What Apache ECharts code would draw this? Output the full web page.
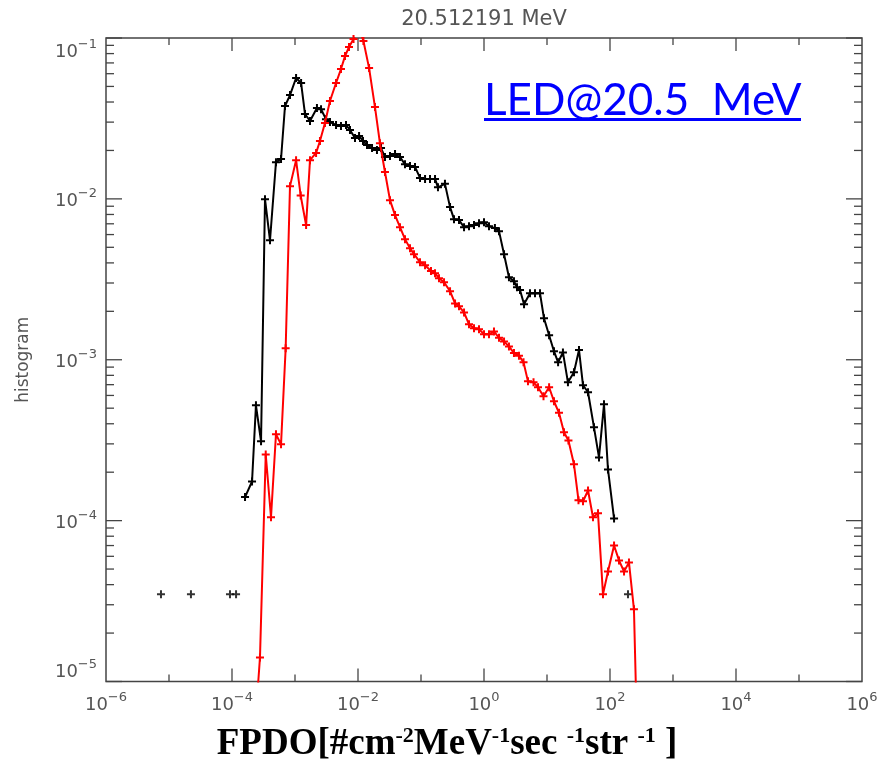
<!DOCTYPE html>
<html>
<head>
<meta charset="utf-8">
<script src="https://cdn.jsdelivr.net/npm/echarts@6/dist/echarts.min.js"></script>
<style>
  html, body { margin: 0; padding: 0; background: #fff; }
  #chart { width: 880px; height: 763px; }
</style>
</head>
<body>
<div id="chart"></div>
<script>
// ---- texts ----
const plotTitle = '20.512191 MeV';
const beamLabel = 'LED@20.5  MeV';
const yTitle = 'histogram';

// ---- axis layout (decade exponents) ----
const xMajorExponents = [-6, -4, -2, 0, 2, 4, 6];
const xMinorExponents = [-5, -3, -1, 1, 3, 5];
const yMajorExponents = [-5, -4, -3, -2, -1];
const yMinorMultipliers = [2, 3, 4, 5, 6, 7, 8, 9];

// ---- black histogram (connected part) ----
const blackX = [1.61e-4, 2.08e-4, 2.40e-4, 2.89e-4, 3.34e-4, 4.01e-4, 4.99e-4, 6.00e-4, 6.94e-4, 8.33e-4,
  1.04e-3, 1.25e-3, 1.44e-3, 1.73e-3, 2.23e-3, 2.59e-3, 3.10e-3, 3.59e-3, 4.48e-3, 5.37e-3,
  6.45e-3, 7.46e-3, 8.96e-3, 1.04e-2, 1.20e-2, 1.39e-2, 1.67e-2, 2.00e-2, 2.32e-2, 2.68e-2,
  3.22e-2, 3.87e-2, 4.64e-2, 5.57e-2, 6.69e-2, 8.03e-2, 9.64e-2, 0.116, 0.139, 0.167,
  0.186, 0.240, 0.289, 0.334, 0.401, 0.482, 0.578, 0.694, 0.833, 1.0,
  1.20, 1.49, 1.73, 2.08, 2.49, 2.99, 3.34, 3.73, 4.32, 5.37,
  6.45, 7.74, 8.96, 10.8, 12.9, 15.0, 17.9, 21.5, 26.8, 32.2,
  37.3, 44.8, 55.7, 66.9, 80.3, 92.9, 116];
const blackY = [1.40e-4, 1.75e-4, 5.21e-4, 3.11e-4, 9.96e-3, 5.53e-3, 1.69e-2, 1.77e-2, 3.78e-2, 4.42e-2,
  5.64e-2, 5.25e-2, 3.37e-2, 3.05e-2, 3.67e-2, 3.61e-2, 3.13e-2, 3.00e-2, 2.88e-2, 2.84e-2,
  2.88e-2, 2.68e-2, 2.39e-2, 2.46e-2, 2.29e-2, 2.16e-2, 2.07e-2, 2.01e-2, 2.07e-2, 1.82e-2,
  1.85e-2, 1.90e-2, 1.82e-2, 1.64e-2, 1.60e-2, 1.58e-2, 1.35e-2, 1.33e-2, 1.33e-2, 1.33e-2,
  1.18e-2, 1.24e-2, 8.89e-3, 7.48e-3, 7.38e-3, 6.67e-3, 6.76e-3, 6.87e-3, 7.06e-3, 7.16e-3,
  6.76e-3, 6.58e-3, 6.30e-3, 4.53e-3, 3.26e-3, 3.08e-3, 2.82e-3, 2.71e-3, 2.21e-3, 2.59e-3,
  2.59e-3, 2.59e-3, 1.81e-3, 1.42e-3, 1.13e-3, 9.64e-4, 1.11e-3, 7.24e-4, 8.36e-4, 1.15e-3,
  6.94e-4, 6.28e-4, 3.80e-4, 2.47e-4, 5.28e-4, 2.08e-4, 1.03e-4];

// ---- black histogram (isolated single-count bins) ----
const blackLoneX = [7.46e-6, 2.23e-5, 9.29e-5, 1.16e-4, 193];
const blackLoneY = [3.48e-5, 3.48e-5, 3.48e-5, 3.48e-5, 3.48e-5];

// ---- red histogram ----
const redX = [2.36e-4, 2.78e-4, 3.43e-4, 4.16e-4, 4.99e-4, 6.00e-4, 7.11e-4, 8.33e-4, 1.04e-3, 1.23e-3,
  1.50e-3, 1.73e-3, 2.16e-3, 2.49e-3, 2.99e-3, 3.59e-3, 4.48e-3, 5.37e-3, 6.22e-3, 7.20e-3,
  8.49e-3, 1.02e-2, 1.22e-2, 1.50e-2, 1.86e-2, 2.23e-2, 2.68e-2, 3.22e-2, 3.87e-2, 4.64e-2,
  5.57e-2, 6.69e-2, 7.74e-2, 9.64e-2, 0.116, 0.144, 0.167, 0.193, 0.232, 0.289,
  0.347, 0.401, 0.482, 0.578, 0.694, 0.833, 1.0, 1.20, 1.44, 1.73,
  2.08, 2.49, 2.99, 3.59, 4.24, 4.99, 6.11, 7.20, 8.80, 10.8,
  12.9, 15.5, 18.6, 21.9, 26.8, 31.6, 37.3, 44.8, 53.7, 64.5,
  77.4, 92.9, 116, 139, 167, 200, 240, 289];
const redY = [5.7e-6, 1.41e-5, 2.58e-4, 1.05e-4, 3.44e-4, 2.98e-4, 1.18e-3, 1.20e-2, 1.74e-2, 1.05e-2,
  6.87e-3, 1.74e-2, 1.93e-2, 2.29e-2, 2.96e-2, 4.06e-2, 5.25e-2, 6.41e-2, 7.72e-2, 8.79e-2,
  9.86e-2, 0.118, 9.58e-2, 6.50e-2, 3.72e-2, 2.22e-2, 1.47e-2, 9.82e-3, 7.93e-3, 6.67e-3,
  5.62e-3, 4.94e-3, 4.53e-3, 4.04e-3, 3.87e-3, 3.56e-3, 3.45e-3, 3.21e-3, 3.03e-3, 2.67e-3,
  2.24e-3, 2.15e-3, 1.97e-3, 1.66e-3, 1.57e-3, 1.55e-3, 1.44e-3, 1.44e-3, 1.50e-3, 1.37e-3,
  1.30e-3, 1.21e-3, 1.10e-3, 1.06e-3, 9.64e-4, 7.34e-4, 7.24e-4, 6.75e-4, 5.93e-4, 6.75e-4,
  5.52e-4, 4.68e-4, 3.54e-4, 3.15e-4, 2.24e-4, 1.34e-4, 1.32e-4, 1.54e-4, 1.05e-4, 1.11e-4,
  3.48e-5, 4.83e-5, 7.01e-5, 5.66e-5, 4.83e-5, 5.50e-5, 2.81e-5, 1.5e-6];

const pairs = (xs, ys) => xs.map((x, i) => [x, ys[i]]);

// '+' marker
const plusPath = 'path://M-1,-0.25L-0.25,-0.25L-0.25,-1L0.25,-1L0.25,-0.25L1,-0.25L1,0.25L0.25,0.25L0.25,1L-0.25,1L-0.25,0.25L-1,0.25Z';

const axisGrey = '#444';
const labelGrey = '#555';
const labelFont = 'DejaVu Sans';

// tick list: [x, y, kind]  kind 0 = y major, 1 = y minor, 2 = x major, 3 = x minor
const tickData = [];
yMajorExponents.forEach(e => tickData.push([1, Math.pow(10, e), 0]));
yMajorExponents.slice(0, -1).forEach(e => yMinorMultipliers.forEach(m => tickData.push([1, m * Math.pow(10, e), 1])));
xMajorExponents.slice(1, -1).forEach(e => tickData.push([Math.pow(10, e), 1e-3, 2]));
xMinorExponents.forEach(e => tickData.push([Math.pow(10, e), 1e-3, 3]));

const tickLen = [16, 8, 13, 7];

function renderTick(params, api) {
  const cs = params.coordSys;
  const kind = api.value(2);
  const len = tickLen[kind];
  const st = { stroke: axisGrey, lineWidth: 1.3 };
  if (kind < 2) {
    const py = api.coord([api.value(0), api.value(1)])[1];
    return { type: 'group', children: [
      { type: 'line', shape: { x1: cs.x, y1: py, x2: cs.x + len, y2: py }, style: st },
      { type: 'line', shape: { x1: cs.x + cs.width, y1: py, x2: cs.x + cs.width - len, y2: py }, style: st }
    ] };
  }
  const px = api.coord([api.value(0), api.value(1)])[0];
  return { type: 'group', children: [
    { type: 'line', shape: { x1: px, y1: cs.y + cs.height, x2: px, y2: cs.y + cs.height - len }, style: st },
    { type: 'line', shape: { x1: px, y1: cs.y, x2: px, y2: cs.y + len }, style: st }
  ] };
}

function powLabel(v) {
  const e = Math.round(Math.log10(v));
  return '{m|10}{s|' + (e < 0 ? '\u2212' + (-e) : e) + '}';
}
const powRich = {
  m: { fontFamily: labelFont, fontSize: 18, color: labelGrey, padding: [5, 0, 0, 0] },
  s: { fontFamily: labelFont, fontSize: 13, color: labelGrey, verticalAlign: 'top' }
};

const chart = echarts.init(document.getElementById('chart'));
chart.setOption({
  backgroundColor: '#fff',
  animation: false,
  grid: {
    left: 106, right: 18, top: 38, bottom: 81.5,
    show: true, borderColor: axisGrey, borderWidth: 1.5, backgroundColor: '#fff',
    containLabel: false, outerBoundsMode: 'none'
  },
  xAxis: {
    type: 'log', logBase: 10, min: 1e-6, max: 1e6, interval: 2,
    axisLine: { show: false }, axisTick: { show: false }, splitLine: { show: false },
    axisLabel: { formatter: powLabel, rich: powRich, margin: 10, showMinLabel: true, showMaxLabel: true, hideOverlap: false }
  },
  yAxis: {
    type: 'log', logBase: 10, min: 1e-5, max: 1e-1, interval: 1,
    name: yTitle, nameLocation: 'middle', nameGap: 74,
    nameTextStyle: { fontFamily: labelFont, fontSize: 17, color: labelGrey },
    axisLine: { show: false }, axisTick: { show: false }, splitLine: { show: false },
    axisLabel: { formatter: powLabel, rich: powRich, margin: 9, showMinLabel: true, showMaxLabel: true,
      verticalAlignMaxLabel: 'top', verticalAlignMinLabel: 'bottom' }
  },
  series: [
    {
      type: 'custom', renderItem: renderTick, data: tickData, silent: true, clip: false,
      encode: { x: 0, y: 1 }, z: 1
    },
    {
      name: 'black', type: 'line', data: pairs(blackX, blackY), clip: true,
      symbol: plusPath, symbolSize: 8, showAllSymbol: true,
      lineStyle: { color: '#000', width: 2 }, itemStyle: { color: '#000' }, z: 3
    },
    {
      name: 'black single', type: 'scatter', data: pairs(blackLoneX, blackLoneY),
      symbol: plusPath, symbolSize: 8, itemStyle: { color: '#000' }, z: 3
    },
    {
      name: 'red', type: 'line', data: pairs(redX, redY), clip: true,
      symbol: plusPath, symbolSize: 8, showAllSymbol: true,
      lineStyle: { color: '#ff0000', width: 2 }, itemStyle: { color: '#ff0000' }, z: 4
    }
  ],
  graphic: [
    {
      type: 'text', x: 484, y: 20,
      style: { text: plotTitle, fontFamily: labelFont, fontSize: 21, fill: labelGrey, align: 'center', verticalAlign: 'middle' }
    },
    {
      type: 'text', x: 484, y: 79,
      style: { text: beamLabel, fontFamily: 'Lato', fontSize: 44, fill: '#0000ff', align: 'left', verticalAlign: 'top' }
    },
    {
      type: 'rect', shape: { x: 484, y: 118, width: 317, height: 3 }, style: { fill: '#0000ff' }
    },
    {
      type: 'text', x: 447, y: 744,
      style: {
        text: '{a|FPDO[#cm}{s|-2}{a|MeV}{s|-1}{a|sec }{s|-1}{a|str }{s|-1}{a| ]}',
        align: 'center', verticalAlign: 'middle',
        rich: {
          a: { fontFamily: 'Liberation Serif', fontWeight: 'bold', fontSize: 37, fill: '#000', verticalAlign: 'bottom' },
          s: { fontFamily: 'Liberation Serif', fontWeight: 'bold', fontSize: 22, fill: '#000', verticalAlign: 'top' }
        }
      }
    }
  ]
});
</script>
</body>
</html>
